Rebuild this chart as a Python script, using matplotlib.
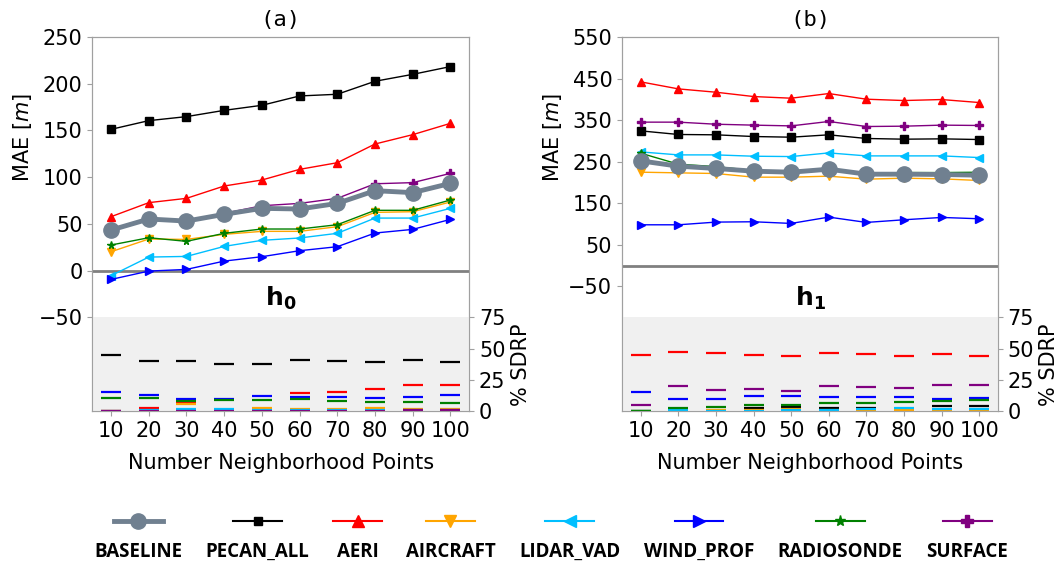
import numpy as np
import matplotlib
matplotlib.use('Agg')
from matplotlib import pyplot as plt
from matplotlib.lines import Line2D
from matplotlib.offsetbox import VPacker

# Number of neighborhood points on the x axis
npts = [10, 20, 30, 40, 50, 60, 70, 80, 90, 100]

names = ['BASELINE', 'PECAN_ALL', 'AERI', 'AIRCRAFT', 'LIDAR_VAD', 'WIND_PROF', 'RADIOSONDE', 'SURFACE']
colors = ['slategrey', 'black', 'red', 'orange', 'deepskyblue', 'blue', 'green', 'purple']
markers = ['o', 's', '^', 'v', '<', '>', '*', 'P']

# MAE [m] for h0
h0_baseline = [43.5, 55.3, 53.1, 60.3, 66.7, 66.0, 72.0, 85.6, 83.5, 93.4]
h0_pecan = [151.2, 160.5, 164.8, 171.5, 176.9, 186.9, 188.7, 202.6, 210.0, 218.3]
h0_aeri = [57.8, 72.8, 77.4, 90.6, 97.0, 108.4, 115.5, 135.5, 145.5, 157.6]
h0_aircraft = [20.3, 33.9, 33.5, 38.9, 42.1, 42.1, 47.1, 62.4, 63.1, 73.5]
h0_lidar = [-5.3, 14.6, 15.3, 26.0, 32.5, 35.0, 40.0, 56.3, 56.3, 66.7]
h0_windprof = [-9.3, -0.4, 1.4, 10.3, 15.0, 21.4, 25.7, 40.3, 44.2, 54.9]
h0_radiosonde = [27.5, 35.3, 31.4, 40.0, 44.6, 44.6, 49.2, 64.6, 64.6, 75.6]
h0_surface = [44.6, 56.0, 53.5, 61.3, 69.5, 72.0, 77.4, 93.0, 94.2, 104.1]

# MAE [m] for h1
h1_baseline = [251.8, 239.0, 233.5, 227.0, 224.6, 231.8, 219.8, 219.8, 219.0, 217.4]
h1_pecan = [324.0, 315.3, 314.5, 310.4, 308.8, 314.5, 305.7, 304.0, 304.8, 303.2]
h1_aeri = [441.9, 425.0, 417.0, 406.6, 402.6, 413.8, 400.2, 397.0, 399.4, 392.2]
h1_aircraft = [224.6, 223.0, 221.4, 212.6, 212.6, 215.0, 207.8, 210.2, 208.6, 204.6]
h1_lidar = [273.4, 266.2, 266.2, 263.0, 262.2, 271.0, 263.8, 263.8, 263.8, 259.8]
h1_windprof = [98.0, 98.0, 104.5, 105.3, 101.3, 116.5, 103.7, 110.1, 115.7, 112.5]
h1_radiosonde = [270.2, 243.8, 238.0, 228.6, 226.2, 231.8, 222.0, 223.7, 223.7, 224.5]
h1_surface = [345.0, 345.0, 340.0, 337.8, 336.0, 346.6, 334.5, 335.3, 337.8, 337.0]

# % SDRP for h0 (no baseline entry)
sdrp_h0_pecan = [45.0, 40.2, 40.2, 37.5, 38.0, 41.0, 40.2, 39.4, 41.0, 39.4]
sdrp_h0_aeri = [0.0, 2.7, 7.0, 0.0, 0.0, 14.2, 15.3, 17.7, 20.6, 20.9]
sdrp_h0_aircraft = [0.0, 0.0, 6.0, 0.0, 2.7, 1.9, 1.9, 2.4, 1.7, 1.9]
sdrp_h0_lidar = [0.0, 0.5, 1.4, 1.4, 0.8, 0.8, 0.8, 0.8, 0.8, 0.8]
sdrp_h0_windprof = [15.0, 12.6, 9.9, 9.6, 12.0, 11.3, 11.0, 10.7, 11.0, 12.6]
sdrp_h0_radiosonde = [10.2, 10.2, 8.0, 8.8, 8.8, 9.4, 7.8, 7.5, 7.0, 6.4]
sdrp_h0_surface = [0.0, 0.3, 0.0, 0.0, 0.0, 0.0, 0.0, 0.0, 0.5, 0.5]

# % SDRP for h1
sdrp_h1_pecan = [0.0, 0.0, 0.0, 2.7, 2.9, 2.7, 2.1, 0.0, 4.0, 3.8]
sdrp_h1_aeri = [45.0, 47.7, 46.6, 45.0, 43.9, 46.6, 45.5, 44.2, 45.5, 43.9]
sdrp_h1_aircraft = [0.0, 0.0, 1.0, 1.0, 1.5, 1.0, 0.5, 0.8, 1.0, 1.0]
sdrp_h1_lidar = [0.0, 0.5, 0.0, 0.0, 0.5, 0.5, 1.6, 2.7, 1.6, 1.6]
sdrp_h1_windprof = [15.0, 9.9, 9.9, 12.3, 11.8, 11.0, 11.3, 11.0, 9.6, 10.2]
sdrp_h1_radiosonde = [0.0, 2.4, 3.2, 4.8, 4.8, 6.7, 6.4, 7.0, 8.0, 9.1]
sdrp_h1_surface = [4.8, 19.8, 16.6, 17.7, 15.8, 19.8, 19.0, 18.8, 20.6, 20.9]

mae_h0 = [h0_baseline, h0_pecan, h0_aeri, h0_aircraft, h0_lidar, h0_windprof, h0_radiosonde, h0_surface]
mae_h1 = [h1_baseline, h1_pecan, h1_aeri, h1_aircraft, h1_lidar, h1_windprof, h1_radiosonde, h1_surface]
sdrp_h0 = [None, sdrp_h0_pecan, sdrp_h0_aeri, sdrp_h0_aircraft, sdrp_h0_lidar, sdrp_h0_windprof, sdrp_h0_radiosonde, sdrp_h0_surface]
sdrp_h1 = [None, sdrp_h1_pecan, sdrp_h1_aeri, sdrp_h1_aircraft, sdrp_h1_lidar, sdrp_h1_windprof, sdrp_h1_radiosonde, sdrp_h1_surface]

plt.rcParams['font.size'] = 15
spine_grey = '#a0a0a0'


def style_axis(ax):
    for s in ax.spines.values():
        s.set_color(spine_grey)
    ax.tick_params(colors=spine_grey, labelcolor='black', labelsize=15)


def draw_panel(ax, mae, sdrp, ylim, yticks, title, hlabel):
    # MAE lines, baseline on top
    for i in range(len(names)):
        if names[i] == 'BASELINE':
            ax.plot(npts, mae[i], color=colors[i], marker=markers[i], lw=3.5, ms=11, zorder=5)
        else:
            ax.plot(npts, mae[i], color=colors[i], marker=markers[i], lw=1, ms=5.5, zorder=3)
    ax.axhline(0, color='grey', lw=2, zorder=2)
    ax.set_xlim(5, 105)
    ax.set_xticks(npts)
    ax.set_ylim(ylim)
    ax.set_yticks(yticks)
    ax.set_title(title, family='DejaVu Sans Mono', fontsize=16, pad=8)
    ax.set_ylabel('MAE [$m$]')
    ax.yaxis.set_label_coords(-0.155, 0.73)
    ax.set_xlabel('Number Neighborhood Points', labelpad=9)
    style_axis(ax)
    ax.text(0.5, 0.30, hlabel, transform=ax.transAxes, ha='center', va='center', fontsize=18)

    # % SDRP dashes on the right axis
    ax2 = ax.twinx()
    ax2.axhspan(0, 75, color='#f0f0f0', zorder=0, lw=0)
    for i in range(len(names)):
        if sdrp[i] is None:
            continue
        ax2.plot(npts, sdrp[i], color=colors[i], marker='_', ls='none', ms=15, mew=1.6)
    ax2.set_ylim(0, 300)
    ax2.set_yticks([0, 25, 50, 75])
    ax2.set_ylabel('% SDRP')
    ax2.yaxis.set_label_coords(1.11, 0.123)
    style_axis(ax2)
    return ax2


fig = plt.figure(figsize=(10.6, 5.65), dpi=100)
ax_a = fig.add_axes([0.087, 0.2726, 0.3557, 0.662])
ax_b = fig.add_axes([0.5868, 0.2726, 0.3547, 0.662])

draw_panel(ax_a, mae_h0, sdrp_h0, (-150, 250), [-50, 0, 50, 100, 150, 200, 250], '(a)', r'$\mathbf{h_0}$')
draw_panel(ax_b, mae_h1, sdrp_h1, (-350, 550), [-50, 50, 150, 250, 350, 450, 550], '(b)', r'$\mathbf{h_1}$')

# legend along the bottom, labels under the handles
handles = []
for i in range(len(names)):
    if names[i] == 'BASELINE':
        handles.append(Line2D([], [], color=colors[i], marker=markers[i], lw=3.5, ms=11))
    elif names[i] == 'PECAN_ALL':
        handles.append(Line2D([], [], color=colors[i], marker=markers[i], lw=1.5, ms=6))
    else:
        handles.append(Line2D([], [], color=colors[i], marker=markers[i], lw=1.5, ms=8))
leg = fig.legend(handles, names, loc='lower center', bbox_to_anchor=(0.52, -0.024), ncol=8,
                 frameon=False, handlelength=2.6, handletextpad=0.75, columnspacing=1.26,
                 prop={'family': 'Open Sans', 'weight': 'bold', 'size': 13.5})
for col in leg._legend_handle_box.get_children():
    for item in col.get_children():
        item.__class__ = VPacker
        item.align = 'center'

fig.savefig('out.png', dpi=100)
